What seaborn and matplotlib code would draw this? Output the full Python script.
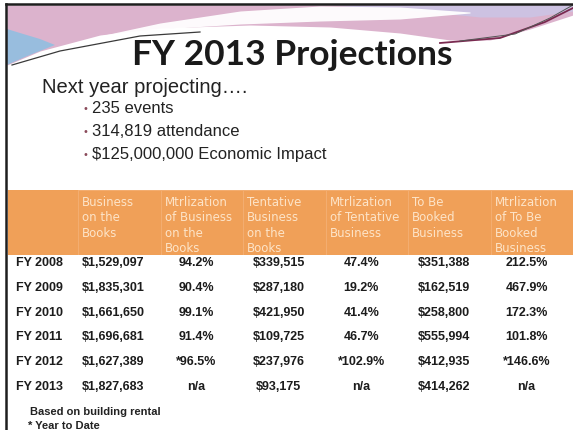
import numpy as np
import pandas as pd
import matplotlib.pyplot as plt
import seaborn as sns
from matplotlib.colors import ListedColormap

# dane ze slajdu
years = ['FY 2008', 'FY 2009', 'FY 2010', 'FY 2011', 'FY 2012', 'FY 2013']
headers = ['Business\non the\nBooks',
           'Mtrlization\nof Business\non the\nBooks',
           'Tentative\nBusiness\non the\nBooks',
           'Mtrlization\nof Tentative\nBusiness',
           'To Be\nBooked\nBusiness',
           'Mtrlization\nof To Be\nBooked\nBusiness']
business_on_books = ['$1,529,097', '$1,835,301', '$1,661,650', '$1,696,681', '$1,627,389', '$1,827,683']
mtrl_business = ['94.2%', '90.4%', '99.1%', '91.4%', '*96.5%', 'n/a']
tentative_business = ['$339,515', '$287,180', '$421,950', '$109,725', '$237,976', '$93,175']
mtrl_tentative = ['47.4%', '19.2%', '41.4%', '46.7%', '*102.9%', 'n/a']
to_be_booked = ['$351,388', '$162,519', '$258,800', '$555,994', '$412,935', '$414,262']
mtrl_to_be_booked = ['212.5%', '467.9%', '172.3%', '101.8%', '*146.6%', 'n/a']

title = 'FY 2013 Projections'
subtitle = 'Next year projecting\u2026.'
bullets = ['235 events', '314,819 attendance', '$125,000,000 Economic Impact']
notes = ['Based on building rental', '* Year to Date']

table = pd.DataFrame(dict(zip(headers, [business_on_books, mtrl_business, tentative_business,
                                        mtrl_tentative, to_be_booked, mtrl_to_be_booked])),
                     index=years)

orange = '#f0a058'
W, H = 573, 431
fig = plt.figure(figsize=(W / 100, H / 100), dpi=100)


def px_axes(x0, y0, x1, y1):
    return fig.add_axes([x0 / W, 1 - y1 / H, (x1 - x0) / W, (y1 - y0) / H])


# tlo slajdu
bg = fig.add_axes([0, 0, 1, 1])
bg.set_xlim(0, W)
bg.set_ylim(H, 0)
bg.axis('off')

xs = np.linspace(7, W, 400)
lower = np.interp(xs, [7, 40, 100, 160, 250, 330, 400, 450, 490, 530, 573],
                  [66, 52, 36, 29, 26, 28, 34, 41, 41, 30, 16])
bg.fill_between(xs, 6, lower, color='#dcb3cd', lw=0)
rx = np.linspace(330, W, 200)
bg.fill_between(rx, 6, np.interp(rx, [330, 420, 480, 530, 573], [6, 12, 18, 18, 12]),
                color='#cdc2e2', lw=0)
sx = np.linspace(95, 470, 300)
bg.fill_between(sx,
                np.interp(sx, [95, 160, 240, 320, 400, 470], [38, 24, 12, 7, 8, 13]),
                np.interp(sx, [95, 160, 240, 320, 400, 470], [39, 30, 25, 22, 20, 14]),
                color='white', lw=0, alpha=0.95)
bg.fill([7, 7, 25, 55, 40, 20], [30, 66, 58, 46, 40, 34], color='#8dbfe2', alpha=0.85, lw=0)
bg.plot([12, 60, 140, 200], [66, 52, 37, 33], color='#3a3a3a', lw=0.9)
bg.plot([440, 500, 545, 573], [44, 39, 23, 9], color='#7a2a50', lw=1.3)
bg.plot([460, 515, 550, 573], [42, 35, 19, 6], color='#555555', lw=0.7)

# ramka
bg.plot([6, W], [5, 5], color='#1e1e1e', lw=1.8)
bg.plot([6, 6], [5, H], color='#1e1e1e', lw=1.8)

bg.text(292, 65, title, ha='center', va='baseline', fontsize=25.5,
        fontweight='bold', family='Lato', color='#1a1a1a')
bg.text(42, 93, subtitle, ha='left', va='baseline', fontsize=14.5,
        family='Liberation Sans', color='#222222')
for i, b in enumerate(bullets):
    y = 113 + 23 * i
    bg.text(85, y - 4, '\u2022', ha='center', va='center', fontsize=7, color='#8a4a5a')
    bg.text(92, y, b, ha='left', va='baseline', fontsize=12,
            family='Liberation Sans', color='#222222')
for i, n in enumerate(notes):
    bg.text(30 - 2 * i, 412 + 14 * i, n, ha='left', va='center', fontsize=8,
            fontweight='bold', family='Liberation Sans', color='#222222')

# wiersze tabeli
ax_d = px_axes(72, 250.6, 568, 399.4)
sns.heatmap(np.zeros(table.shape), cmap=ListedColormap(['white']), cbar=False,
            annot=table.values, fmt='',
            annot_kws=dict(fontsize=9, fontweight='bold', color='#1c1c1c', family='Liberation Sans'),
            xticklabels=False, yticklabels=years, ax=ax_d)
ax_d.tick_params(axis='y', length=0, pad=40)
for lbl in ax_d.get_yticklabels():
    lbl.set_rotation(0)
    lbl.set_ha('left')
    lbl.set_fontsize(9)
    lbl.set_fontweight('bold')
    lbl.set_family('Liberation Sans')
    lbl.set_color('#1c1c1c')

# naglowek
ax_h = px_axes(8, 191, W, 256)
sns.heatmap(np.ones((1, len(headers))), cmap=ListedColormap([orange]), cbar=False,
            linewidths=0.6, linecolor='#f3ad70', xticklabels=False, yticklabels=False, ax=ax_h)
ax_h.set_xlim(-70 / 82.5, len(headers))
ax_h.set_facecolor(orange)
for j, h in enumerate(headers):
    ax_h.text(j + 0.05, 0.07, h, ha='left', va='top', fontsize=8.5,
              color='#fde4c8', linespacing=1.25, family='DejaVu Sans')

fig.savefig('out.png', dpi=100)
